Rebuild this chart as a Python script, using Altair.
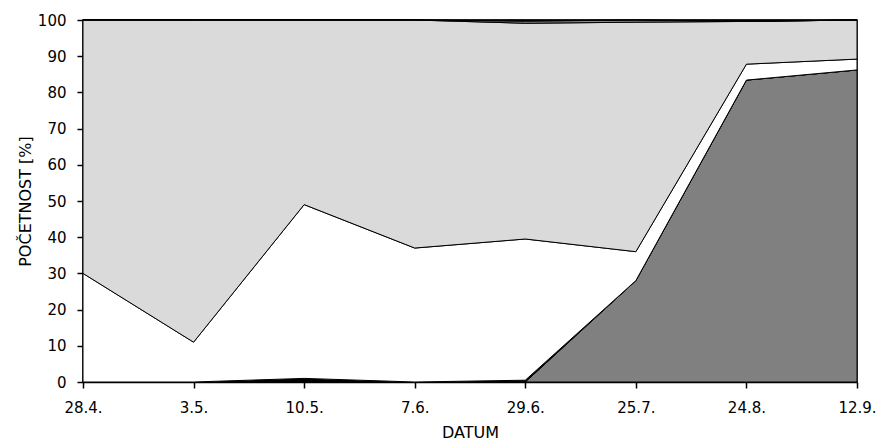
import altair as alt
import pandas as pd

dates = ["28.4.", "3.5.", "10.5.", "7.6.", "29.6.", "25.7.", "24.8.", "12.9."]

# stacked series (bottom -> top), percent values
gray_vals = [0, 0, 0, 0, 0, 28, 83.4, 86.2]
black_low_vals = [0, 0, 1.0, 0, 0.5, 0, 0, 0]
white_vals = [30, 11, 48.0, 37, 39.0, 8, 4.4, 3.0]
dotted_vals = [70, 89, 51, 63, 59.6, 63.4, 11.8, 10.8]
hatched_vals = [0, 0, 0, 0, 0.6, 0.6, 0, 0]
black_top_vals = [0, 0, 0, 0, 0.3, 0.0, 0.4, 0]

series_names = ["s1", "s2", "s3", "s4", "s5", "s6"]
series_values = [gray_vals, black_low_vals, white_vals, dotted_vals, hatched_vals, black_top_vals]
series_colors = ["#808080", "#000000", "#ffffff", "#dadada", "#8c8c8c", "#000000"]

rows = []
for k, (name, vals) in enumerate(zip(series_names, series_values)):
    for d, v in zip(dates, vals):
        rows.append({"datum": d, "serie": name, "ord": k, "val": v})
df = pd.DataFrame(rows)

FONT = "DejaVu Sans"

chart = alt.Chart(df).mark_area(
    stroke="black", strokeWidth=1, strokeJoin="miter", interpolate="linear"
).encode(
    x=alt.X(
        "datum:N",
        sort=dates,
        scale=alt.Scale(type="point", padding=0),
        axis=alt.Axis(
            title="DATUM",
            labelAngle=0,
            tickSize=6,
            labelPadding=12,
            titlePadding=9,
            labelFontSize=15,
            titleFontSize=16,
        ),
    ),
    y=alt.Y(
        "val:Q",
        stack="zero",
        scale=alt.Scale(domain=[0, 100], nice=False),
        axis=alt.Axis(
            title="POČETNOST [%]",
            values=list(range(0, 101, 10)),
            tickSize=6,
            labelPadding=11,
            titlePadding=4,
            labelFontSize=15,
            titleFontSize=16,
            grid=False,
        ),
    ),
    color=alt.Color(
        "serie:N",
        scale=alt.Scale(domain=series_names, range=series_colors),
        legend=None,
    ),
    order=alt.Order("ord:Q", sort="ascending"),
).properties(
    width=774,
    height=362,
    autosize=alt.AutoSizeParams(type="none"),
    padding={"left": 83, "top": 20, "right": 22, "bottom": 58},
    background="white",
).configure_view(
    stroke="black", strokeWidth=1.5
).configure_axis(
    domainColor="black",
    domainWidth=1.5,
    tickColor="black",
    tickWidth=1.5,
    labelColor="black",
    titleColor="black",
    labelFont=FONT,
    titleFont=FONT,
    titleFontWeight="normal",
)

chart.save("out.html", embed_options={"renderer": "svg", "actions": False})
